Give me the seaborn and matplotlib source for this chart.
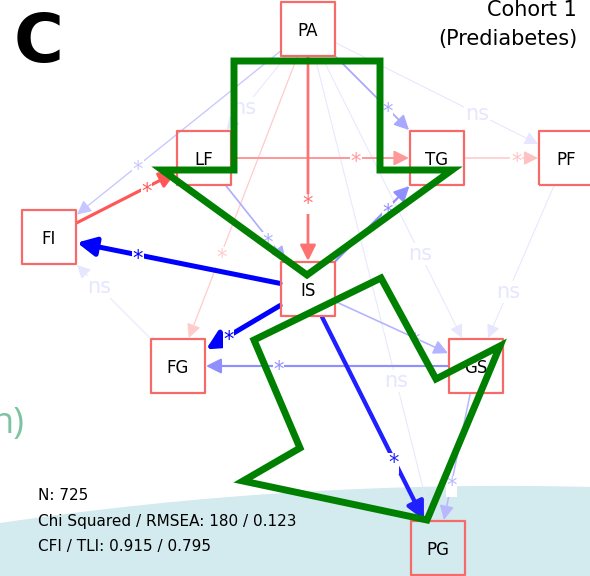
import numpy as np
import pandas as pd
import matplotlib
matplotlib.use("Agg")
import matplotlib.pyplot as plt
import seaborn as sns
from matplotlib.patches import FancyArrowPatch, Polygon, ArrowStyle

sns.set_theme(style="white")
plt.rcParams["font.family"] = ["DejaVu Sans"]
plt.rcParams["text.color"] = "black"

# Observed variables of the path model
nodes = ["PA", "LF", "TG", "PF", "FI", "IS", "FG", "GS", "PG"]

# Standardised path estimates and their significance
edge_from = ["PA", "PA", "PA", "PA", "PA", "PA", "PA", "PA", "FI", "LF", "LF",
             "TG", "IS", "IS", "IS", "IS", "IS", "GS", "GS", "PF", "FG"]
edge_to = ["LF", "FI", "IS", "TG", "PF", "FG", "GS", "PG", "LF", "TG", "IS",
           "PF", "FI", "FG", "TG", "GS", "PG", "FG", "PG", "GS", "FI"]
edge_coef = [-0.05, -0.11, 0.28, -0.17, -0.05, 0.10, -0.05, -0.05, 0.33, 0.20, -0.16,
             0.12, -0.50, -0.50, -0.22, -0.15, -0.44, -0.22, -0.14, -0.05, -0.05]
edge_sig = [False, True, True, True, False, True, False, False, True, True, True,
            True, True, True, True, True, True, True, True, False, False]

# Model fit summary
fit_n = 725
fit_chisq = 180
fit_rmsea = 0.123
fit_cfi = 0.915
fit_tli = 0.795

cohort_title = ["Cohort 1", "(Prediabetes)"]
panel_tag = "C"

# Diagram layout on a 590 x 576 canvas (y grows downward)
layout_x = {"PA": 308, "LF": 204, "TG": 437, "PF": 566, "FI": 49,
            "IS": 308, "FG": 178, "GS": 476, "PG": 438}
layout_y = {"PA": 29, "LF": 158, "TG": 158, "PF": 158, "FI": 237,
            "IS": 289, "FG": 366, "GS": 366, "PG": 548}

BOX_EDGE = "#f66a6a"
GREEN = "#008000"
TEAL = "#d3eaee"
MINT = "#7cc3a2"
HALF = 28.0          # half side of a node box (canvas units)
LABEL_POS = 0.70     # where the edge label sits along the visible path
CMAX = 0.5

node_df = pd.DataFrame({"node": nodes,
                        "x": [layout_x[n] for n in nodes],
                        "y": [layout_y[n] for n in nodes]})
edges = pd.DataFrame({"src": edge_from, "dst": edge_to,
                      "coef": edge_coef, "sig": edge_sig})
edges["strength"] = np.clip(edges["coef"].abs() / CMAX, 0, 1)
edges = edges.sort_values("strength", kind="stable").reset_index(drop=True)


def edge_colour(coef, a):
    base = np.array([1.0, 0.0, 0.0]) if coef > 0 else np.array([0.0, 0.0, 1.0])
    return tuple(np.ones(3) * (1 - a) + base * a)


def clip_to_box(p, q):
    d = q - p
    tx = HALF / abs(d[0]) if d[0] != 0 else np.inf
    ty = HALF / abs(d[1]) if d[1] != 0 else np.inf
    return p + d * min(tx, ty)


fig = plt.figure(figsize=(5.9, 5.76), dpi=100)
ax = fig.add_axes([0, 0, 1, 1])
ax.set_xlim(0, 590)
ax.set_ylim(576, 0)
ax.set_axis_off()

# pale backdrop along the bottom
bx = np.array([0.0, 300.0, 590.0])
by = np.array([523.0, 492.0, 487.0])
curve = np.poly1d(np.polyfit(bx, by, 2))
xs = np.linspace(0, 590, 200)
ax.fill_between(xs, curve(xs), 576, color=TEAL, lw=0, zorder=0)

ax.text(25, 433, "n)", ha="right", va="baseline", fontsize=26,
        color=MINT, family=["Open Sans", "DejaVu Sans"], zorder=1)

# paths
for _, e in edges.iterrows():
    p = np.array([layout_x[e.src], layout_y[e.src]], float)
    q = np.array([layout_x[e.dst], layout_y[e.dst]], float)
    a = e.strength
    col = edge_colour(e.coef, a)
    lw = 0.6 + 3.0 * a ** 1.4
    start, end = clip_to_box(p, q), clip_to_box(q, p)
    arr = FancyArrowPatch(start, end,
                          arrowstyle=ArrowStyle("-|>", head_length=0.5, head_width=0.25),
                          mutation_scale=15 + 2 * lw, lw=lw, color=col,
                          shrinkA=0, shrinkB=0, zorder=2)
    ax.add_patch(arr)
    mid = start + (end - start) * LABEL_POS
    if e.sig:
        ax.annotate("*", xy=mid, xytext=(0, -3), textcoords="offset points",
                    ha="center", va="center", fontsize=15, color=col, zorder=3,
                    bbox=dict(boxstyle="square,pad=0.02", fc="white", ec="none"))
    else:
        ax.annotate("ns", xy=mid, ha="center", va="center", fontsize=15,
                    color=col, zorder=3,
                    bbox=dict(boxstyle="square,pad=0.05", fc="white", ec="none"))

# node boxes
sns.scatterplot(data=node_df, x="x", y="y", marker="s", s=1568,
                color="white", edgecolor=BOX_EDGE, linewidth=1.6,
                zorder=4, legend=False, ax=ax)
ax.collections[-1].set_facecolor("none")
ax.set_xlim(0, 590)
ax.set_ylim(576, 0)
ax.set_axis_off()
for _, n in node_df.iterrows():
    ax.text(n.x, n.y, n.node, ha="center", va="center_baseline", fontsize=12,
            color="black", zorder=5)

# highlight arrows
down_arrow = [(234, 61), (380, 61), (380, 170), (452, 170), (307, 275),
              (162, 170), (234, 170)]
bolt = [(254, 340), (381, 278), (436, 379), (500, 346), (427, 520),
        (243, 481), (300, 448)]
for verts in (down_arrow, bolt):
    ax.add_patch(Polygon(verts, closed=True, fill=False, ec=GREEN, lw=5,
                         joinstyle="miter", zorder=6))

# titles and fit statistics
ax.text(14, 62, panel_tag, fontsize=49, fontweight="bold", va="baseline",
        color="black", zorder=7)
ax.text(577, 16, cohort_title[0], ha="right", va="baseline", fontsize=15,
        color="black", zorder=7)
ax.text(577, 45, cohort_title[1], ha="right", va="baseline", fontsize=15,
        color="black", zorder=7)
ax.text(38, 500.5, f"N: {fit_n}", fontsize=11, va="baseline",
        color="black", zorder=7)
ax.text(38, 526, f"Chi Squared / RMSEA: {fit_chisq} / {fit_rmsea}",
        fontsize=11, va="baseline", color="black", zorder=7)
ax.text(38, 551, f"CFI / TLI: {fit_cfi} / {fit_tli}", fontsize=11,
        va="baseline", color="black", zorder=7)

fig.savefig("out.png", dpi=100)
